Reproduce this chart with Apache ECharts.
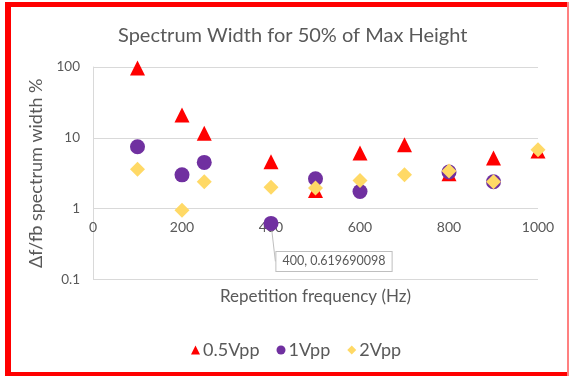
<!DOCTYPE html>
<html>
<head>
<meta charset="utf-8">
<script src="https://cdn.jsdelivr.net/npm/echarts@6/dist/echarts.min.js"></script>
<style>html,body{margin:0;padding:0;background:#fff}#c{width:569px;height:376px}</style>
</head>
<body>
<div id="c"></div>
<script>
const titleText = 'Spectrum Width for 50% of Max Height';
const xName = 'Repetition frequency (Hz)';
const yName = 'Δf/fb spectrum width %';
const seriesNames = ['0.5Vpp', '1Vpp', '2Vpp'];
const freqs = [100, 200, 250, 400, 500, 600, 700, 800, 900, 1000];
const v05 = [97, 21, 11.6, 4.6, 1.8, 6.1, 8.0, 3.1, 5.2, 6.5];
const v1 = [7.5, 3.0, 4.5, 0.619690098, 2.65, 1.75, null, 3.3, 2.4, null];
const v2 = [3.6, 0.95, 2.4, 2.0, 1.95, 2.5, 3.0, 3.4, 2.4, 6.8];
const calloutIndex = 3;

const FONT = 'Lato';
const TXT = '#595959';

function pairs(vals, labelIdx) {
  const out = [];
  vals.forEach((v, i) => {
    if (v == null) return;
    const item = { value: [freqs[i], v] };
    if (i === labelIdx) {
      item.label = {
        show: true,
        position: 'inside',
        formatter: freqs[i] + ', ' + v,
        color: TXT,
        fontFamily: FONT,
        fontSize: 12.5,
        backgroundColor: '#fff',
        borderColor: '#BFBFBF',
        borderWidth: 1,
        padding: [3, 6]
      };
      item.labelLine = { show: true, lineStyle: { color: '#BFBFBF', width: 1 } };
    }
    out.push(item);
  });
  return out;
}

const chart = echarts.init(document.getElementById('c'), null, { renderer: 'canvas' });
chart.setOption({
  animation: false,
  backgroundColor: '#fff',
  textStyle: { fontFamily: FONT, color: TXT },
  title: {
    text: titleText,
    left: 113,
    top: 21,
    textStyle: { fontFamily: FONT, fontSize: 20, fontWeight: 'normal', color: TXT }
  },
  legend: {
    top: 336,
    left: 186,
    itemWidth: 9,
    itemHeight: 9,
    itemGap: 17,
    textStyle: { fontFamily: FONT, fontSize: 18, color: TXT, padding: [0, 0, 0, -2] },
    data: [
      { name: seriesNames[0], icon: 'triangle' },
      { name: seriesNames[1], icon: 'circle' },
      { name: seriesNames[2], icon: 'diamond' }
    ]
  },
  grid: { left: 93, right: 31, top: 67, bottom: 96.5, containLabel: false },
  xAxis: {
    type: 'value',
    min: 0,
    max: 1000,
    interval: 200,
    offset: -70.8,
    name: xName,
    nameLocation: 'middle',
    nameGap: 79,
    nameTextStyle: { fontFamily: FONT, fontSize: 17, color: TXT },
    axisLine: { show: false },
    axisTick: { show: false },
    splitLine: { show: false },
    axisLabel: { fontFamily: FONT, fontSize: 14, color: TXT, margin: 12, formatter: v => String(v) }
  },
  yAxis: {
    type: 'log',
    logBase: 10,
    min: 0.1,
    max: 100,
    name: yName,
    nameLocation: 'middle',
    nameGap: 43,
    nameTextStyle: { fontFamily: FONT, fontSize: 18, color: TXT },
    axisLine: { show: true, lineStyle: { color: '#D9D9D9' } },
    axisTick: { show: false },
    splitLine: { show: true, lineStyle: { color: '#D9D9D9' } },
    axisLabel: { fontFamily: FONT, fontSize: 13.5, color: TXT, margin: 13 }
  },
  series: [
    {
      name: seriesNames[0], type: 'scatter', symbol: 'triangle', symbolSize: [15, 15],
      itemStyle: { color: '#FF0000', opacity: 1 }, data: pairs(v05, -1)
    },
    {
      name: seriesNames[1], type: 'scatter', symbol: 'circle', symbolSize: 15,
      itemStyle: { color: '#7030A0', opacity: 1 }, data: pairs(v1, calloutIndex),
      labelLayout: { dx: 63, dy: 38 },
      labelLine: { show: true, lineStyle: { color: '#BFBFBF', width: 1 } }
    },
    {
      name: seriesNames[2], type: 'scatter', symbol: 'diamond', symbolSize: [15, 15],
      itemStyle: { color: '#FFD966', opacity: 1 }, data: pairs(v2, -1)
    }
  ],
  graphic: [
    { type: 'rect', shape: { x: 5, y: 2, width: 564, height: 5 }, style: { fill: '#FF0000' }, z: 100 },
    { type: 'rect', shape: { x: 5, y: 2, width: 6, height: 374 }, style: { fill: '#FF0000' }, z: 100 },
    { type: 'rect', shape: { x: 5, y: 372, width: 564, height: 4 }, style: { fill: '#FF0000' }, z: 100 },
    { type: 'rect', shape: { x: 567, y: 2, width: 2, height: 374 }, style: { fill: '#FF8080' }, z: 100 }
  ]
});
</script>
</body>
</html>
